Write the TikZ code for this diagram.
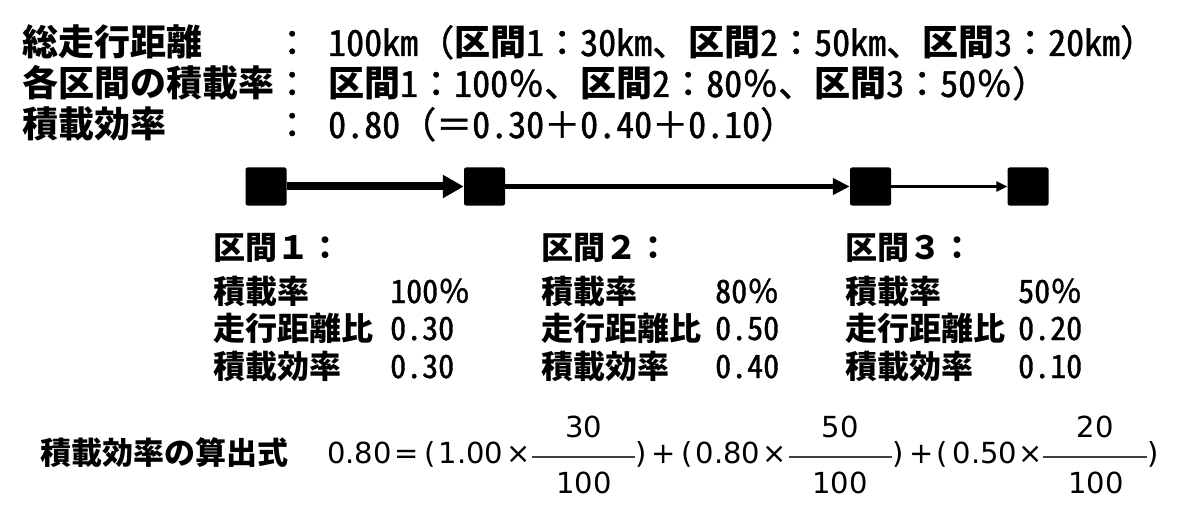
\documentclass[tikz,border=0pt]{standalone}
\usepackage{fontspec}
\newfontfamily\jp{Noto Sans CJK JP}
\newfontfamily\jpm{Noto Sans CJK JP}[FakeBold=1.2]
\newfontfamily\jph{Noto Sans CJK JP}[RawFeature=+hwid, FakeBold=1.2]
\newfontfamily\dv{DejaVu Sans}
\newcommand\hw[1]{{\jph #1}}
\newcommand\kb[1]{{\jp\bfseries #1}}
\usetikzlibrary{arrows.meta}
\tikzset{
  toptext/.style={anchor=base west, inner sep=0pt, font=\jp\bfseries\fontsize{36}{36}\selectfont},
  topval/.style={anchor=base west, inner sep=0pt, font=\jpm\fontsize{36}{36}\selectfont},
  sectext/.style={anchor=base west, inner sep=0pt, font=\jp\bfseries\fontsize{32}{32}\selectfont},
  secval/.style={anchor=base west, inner sep=0pt, font=\jpm\fontsize{32}{32}\selectfont},
  lbltext/.style={anchor=base west, inner sep=0pt, font=\jp\bfseries\fontsize{31}{31}\selectfont},
  fm/.style={anchor=base, inner sep=0pt, font=\dv\fontsize{29}{29}\selectfont},
  blk/.style={fill=black, rounded corners=2pt, minimum width=41pt, minimum height=38pt, inner sep=0pt},
  bar/.style={draw=black!75, line width=1.4pt},
}
\begin{document}
\begin{tikzpicture}[x=1pt,y=-1pt]
\useasboundingbox[fill=white] (0,0) rectangle (1200,508);
% top rows
\node[toptext] (r1a) at (22,56) {総走行距離};
\node[topval] (r1c) at (274,56) {：};
\node[topval] (r1v) at (328,56) {\hw{100km}（\kb{区間}\hw{1}：\hw{30km}、\kb{区間}\hw{2}：\hw{50km}、\kb{区間}\hw{3}：\hw{20km}）};
\node[toptext] (r2a) at (22,97) {各区間の積載率};
\node[topval] (r2c) at (274,97) {：};
\node[topval] (r2v) at (328,97) {\kb{区間}\hw{1}：\hw{100}％、\kb{区間}\hw{2}：\hw{80}％、\kb{区間}\hw{3}：\hw{50}％）};
\node[toptext] (r3a) at (22,138) {積載効率};
\node[topval] (r3c) at (274,138) {：};
\node[topval] (r3v) at (328,138) {\hw{0.80}（＝\hw{0.30}＋\hw{0.40}＋\hw{0.10}）};
% blocks and arrows
\node[blk] (b1) at (266,186.5) {};
\node[blk] (b2) at (484.5,186.5) {};
\node[blk] (b3) at (870.5,186.5) {};
\node[blk] (b4) at (1028,186.5) {};
\draw[line width=8pt, -{Triangle[length=21pt,width=22pt]}] (b1) -- (b2);
\draw[line width=5pt, -{Triangle[length=17pt,width=16pt]}] (b2) -- (b3);
\draw[line width=3.5pt, -{Triangle[length=11pt,width=10pt]}] (b3) -- (b4);
% section 1
\node[sectext] (s1h) at (213,259) {区間１：};
\node[sectext] (s1a) at (213,303) {積載率};
\node[sectext] (s1b) at (213,340) {走行距離比};
\node[sectext] (s1c) at (213,378) {積載効率};
\node[secval] (s1av) at (390,303) {\hw{100}％};
\node[secval] (s1bv) at (390,340) {\hw{0.30}};
\node[secval] (s1cv) at (390,378) {\hw{0.30}};
% section 2
\node[sectext] (s2h) at (541,259) {区間２：};
\node[sectext] (s2a) at (541,303) {積載率};
\node[sectext] (s2b) at (541,340) {走行距離比};
\node[sectext] (s2c) at (541,378) {積載効率};
\node[secval] (s2av) at (715,303) {\hw{80}％};
\node[secval] (s2bv) at (715,340) {\hw{0.50}};
\node[secval] (s2cv) at (715,378) {\hw{0.40}};
% section 3
\node[sectext] (s3h) at (845,259) {区間３：};
\node[sectext] (s3a) at (845,303) {積載率};
\node[sectext] (s3b) at (845,340) {走行距離比};
\node[sectext] (s3c) at (845,378) {積載効率};
\node[secval] (s3av) at (1018,303) {\hw{50}％};
\node[secval] (s3bv) at (1018,340) {\hw{0.20}};
\node[secval] (s3cv) at (1018,378) {\hw{0.10}};
% formula
\node[lbltext] (flbl) at (40,464) {積載効率の算出式};
\node[fm] (f1) at (359.5,463) {0.80};
\node[fm] (feq) at (407,463) {=};
\node[fm] (fo1) at (430,463) {(};
\node[fm] (fa1) at (471,463) {1.00};
\node[fm] (fx1) at (519,463) {×};
\coordinate (l1a) at (532,457); \coordinate (l1b) at (635,457);
\draw[bar] (l1a) -- (l1b);
\node[fm] (n1) at (584,437) {30};
\node[fm] (d1) at (584,493) {100};
\node[fm] (fc1) at (641,463) {)};
\node[fm] (fp1) at (664,463) {+};
\node[fm] (fo2) at (687,463) {(};
\node[fm] (fa2) at (728,463) {0.80};
\node[fm] (fx2) at (775,463) {×};
\coordinate (l2a) at (789,457); \coordinate (l2b) at (892,457);
\draw[bar] (l2a) -- (l2b);
\node[fm] (n2) at (840,437) {50};
\node[fm] (d2) at (840,493) {100};
\node[fm] (fc2) at (898,463) {)};
\node[fm] (fp2) at (922,463) {+};
\node[fm] (fo3) at (942,463) {(};
\node[fm] (fa3) at (985,463) {0.50};
\node[fm] (fx3) at (1031,463) {×};
\coordinate (l3a) at (1043,457); \coordinate (l3b) at (1147,457);
\draw[bar] (l3a) -- (l3b);
\node[fm] (n3) at (1095,437) {20};
\node[fm] (d3) at (1096,493) {100};
\node[fm] (fc3) at (1153,463) {)};
\end{tikzpicture}
\end{document}
